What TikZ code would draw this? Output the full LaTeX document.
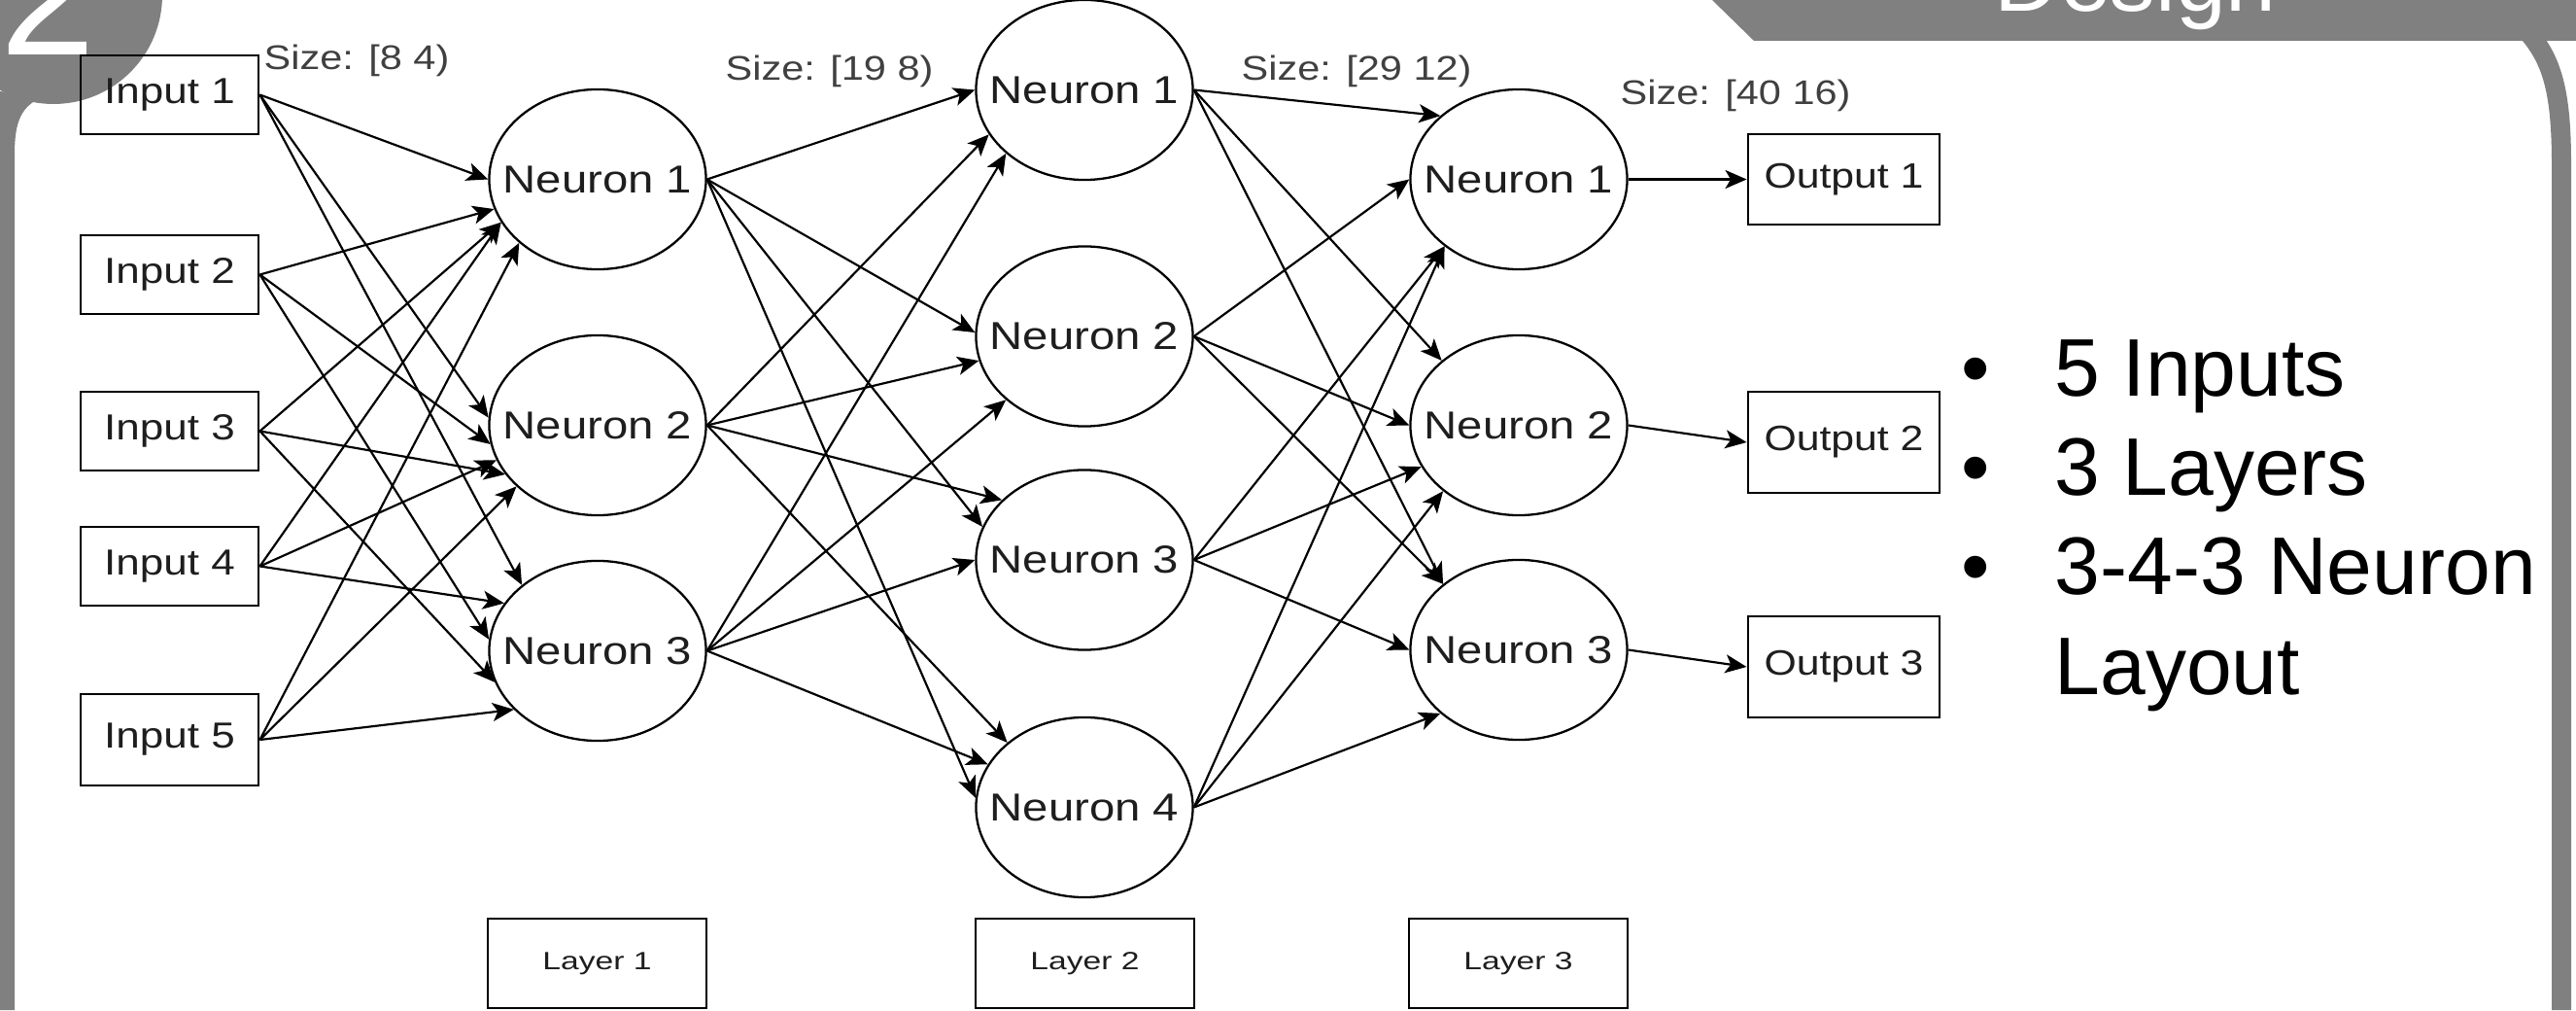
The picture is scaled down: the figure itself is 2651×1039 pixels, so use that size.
\documentclass[tikz,border=0pt]{standalone}
\usepackage{fontspec}
\setmainfont{Liberation Sans}
\newfontfamily\diagfont[FakeStretch=1.18]{Liberation Sans}
\newfontfamily\layerfont[FakeStretch=1.31]{Liberation Sans}
\usetikzlibrary{arrows.meta,shapes.geometric}
\definecolor{framegray}{HTML}{808080}
\definecolor{inktext}{HTML}{1E1E1E}
\tikzset{
  neurontext/.style={inner sep=0pt,text=inktext,font=\diagfont\fontsize{11.4}{13}\selectfont},
  neuron/.style={draw,ellipse,line width=0.65pt,minimum width=2.23cm,minimum height=1.85cm,inner sep=0pt,label={[neurontext]center:#1}},
  iobox/.style={draw,rectangle,line width=0.8pt,minimum width=1.83cm,minimum height=0.81cm,inner sep=0pt,text=inktext,font=\diagfont\fontsize{10.6}{12}\selectfont},
  outbox/.style={iobox,minimum width=1.97cm,font=\diagfont\fontsize{10.3}{12}\selectfont},
  layerbox/.style={draw,rectangle,line width=0.8pt,minimum width=2.25cm,minimum height=0.92cm,inner sep=0pt,text=inktext,font=\layerfont\fontsize{7.3}{8}\selectfont},
  sizelabel/.style={anchor=base west,inner sep=0pt,text=inktext!85,font=\diagfont\fontsize{10}{12}\selectfont},
  bullettext/.style={anchor=base west,inner sep=0pt,font=\fontsize{23.9}{29}\selectfont},
  link/.style={-{Stealth[length=2.2mm,width=1.9mm,inset=0.55mm]},line width=0.62pt}
}
\begin{document}
\begin{tikzpicture}[x=0.01cm,y=0.01cm]
  \useasboundingbox (0,0) rectangle (2651,1039);
  \clip (0,0) rectangle (2651,1039);
  \fill[white] (0,0) rectangle (2651,1039);

  % slide frame
  \fill[framegray] (0,0) -- (15,0) -- (15,880) .. controls (15,915) and (22,930) .. (45,940) -- (0,945) -- cycle;
  \fill[framegray] (55,1044) circle (112);
  \node[anchor=base west,inner sep=0pt,text=white,font=\fontsize{50}{50}\selectfont] (num) at (0,982) {2};
  \fill[framegray] (1762,1039) -- (2651,1039) -- (2651,997) -- (1805,997) -- cycle;
  \node[anchor=base west,inner sep=0pt,text=white,font=\fontsize{26.5}{30}\selectfont] (title) at (2052,1027) {Design};
  \draw[framegray,line width=0.2cm] (2636,0) -- (2636,870) .. controls (2636,950) and (2625,980) .. (2598,1010);

  % inputs
  \node[iobox] (i1) at (174.5,941.5) {Input 1};
  \node[iobox] (i2) at (174.5,756.5) {Input 2};
  \node[iobox] (i3) at (174.5,595.5) {Input 3};
  \node[iobox] (i4) at (174.5,456.5) {Input 4};
  \node[iobox,minimum height=0.94cm] (i5) at (174.5,278) {Input 5};

  % layer 1
  \node[neuron={Neuron 1}] (n11) at (615,854.5) {};
  \node[neuron={Neuron 2}] (n12) at (615,601.5) {};
  \node[neuron={Neuron 3}] (n13) at (615,369.5) {};

  % layer 2
  \node[neuron={Neuron 1}] (n21) at (1116,946.5) {};
  \node[neuron={Neuron 2}] (n22) at (1116,693) {};
  \node[neuron={Neuron 3}] (n23) at (1116,463) {};
  \node[neuron={Neuron 4}] (n24) at (1116,208.5) {};

  % layer 3
  \node[neuron={Neuron 1}] (n31) at (1563,854.5) {};
  \node[neuron={Neuron 2}] (n32) at (1563,601.5) {};
  \node[neuron={Neuron 3}] (n33) at (1563,370.5) {};

  % outputs
  \node[outbox,minimum height=0.93cm] (o1) at (1897.5,854.5) {Output 1};
  \node[outbox,minimum height=1.04cm] (o2) at (1897.5,584) {Output 2};
  \node[outbox,minimum height=1.04cm] (o3) at (1897.5,353) {Output 3};

  % layer captions
  \node[layerbox] (l1) at (614.5,48) {Layer 1};
  \node[layerbox] (l2) at (1116.5,48) {Layer 2};
  \node[layerbox] (l3) at (1562.5,48) {Layer 3};

  % sizes
  \node[sizelabel] (s1) at (271,967) {Size: [8 4)};
  \node[sizelabel] (s2) at (746,956) {Size: [19 8)};
  \node[sizelabel] (s3) at (1277,956) {Size: [29 12)};
  \node[sizelabel] (s4) at (1667,931) {Size: [40 16)};

  % connections
  \foreach \src/\dst/\ang in {i1/n11/180,i2/n11/196,i3/n11/204,i4/n11/204,i5/n11/219,
      i1/n12/176,i2/n12/190,i3/n12/208,i4/n12/199,i5/n12/217,
      i1/n13/139,i2/n13/174,i3/n13/197,i4/n13/153,i5/n13/215,
      n11/n21/180,n12/n21/205,n13/n21/219,
      n11/n22/178,n12/n22/193,n13/n22/219,
      n11/n23/162,n12/n23/144,n13/n23/180,
      n11/n24/175,n12/n24/140,n13/n24/156,
      n21/n31/141,n22/n31/180,n23/n31/222,n24/n31/222,
      n21/n32/140,n22/n32/180,n23/n32/203,n24/n32/221,
      n21/n33/139,n22/n33/139,n23/n33/180,n24/n33/219}
    \draw[link] (\src.east) -- (\dst.\ang);
  \draw[link] (n31.east) -- (o1.west);
  \draw[link] (n32.east) -- (o2.west);
  \draw[link] (n33.east) -- (o3.west);

  % summary
  \node[bullettext,anchor=base] (d1) at (2033,631) {•};
  \node[bullettext,anchor=base] (d2) at (2033,529) {•};
  \node[bullettext,anchor=base] (d3) at (2033,427) {•};
  \node[bullettext] (t1) at (2114,631) {5 Inputs};
  \node[bullettext] (t2) at (2114,529) {3 Layers};
  \node[bullettext] (t3) at (2114,427) {3-4-3 Neuron};
  \node[bullettext] (t4) at (2114,324) {Layout};
\end{tikzpicture}
\end{document}
